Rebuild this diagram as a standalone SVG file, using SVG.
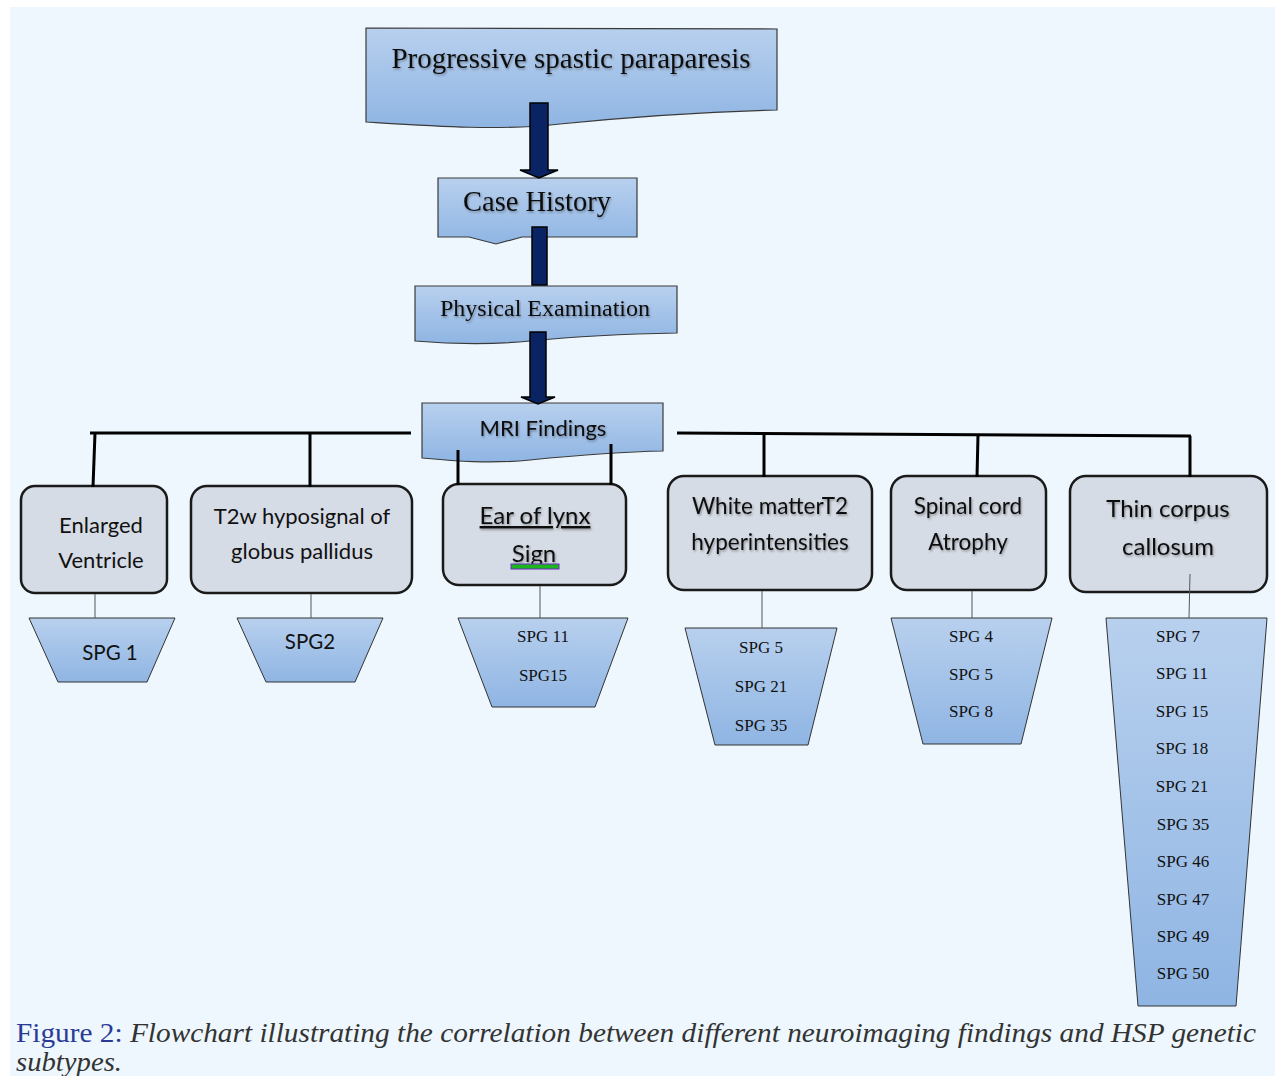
<svg xmlns="http://www.w3.org/2000/svg" width="1275" height="1076" viewBox="0 0 1275 1076">
<defs>
<linearGradient id="gb" x1="0" y1="0" x2="0" y2="1">
<stop offset="0" stop-color="#B8D0EE"/>
<stop offset="1" stop-color="#8FB5E3"/>
</linearGradient>
<filter id="sh" x="-10%" y="-20%" width="120%" height="140%">
<feDropShadow dx="1" dy="1.5" stdDeviation="0.8" flood-color="#000" flood-opacity="0.35"/>
</filter>
<style>
.bluebox{fill:url(#gb);stroke:#3a3a3a;stroke-width:1.2}
.trap{fill:url(#gb);stroke:#333;stroke-width:1}
.box{fill:#D6DCE5;stroke:#1a1a1a;stroke-width:2.5}
.serifT{font-family:"Liberation Serif",serif;fill:#111;text-anchor:middle}
.sansT{font-family:Lato,"Open Sans",sans-serif;fill:#111;text-anchor:middle}
.spg{font-family:"Liberation Serif",serif;font-size:17px;fill:#111;text-anchor:middle}
.arrow{fill:#0A2463;stroke:#000;stroke-width:1.5}
.thick{stroke:#000;stroke-width:3;fill:none}
.thin{stroke:#555;stroke-width:1;fill:none}
</style>
</defs>
<rect x="0" y="0" width="1275" height="1076" fill="#ffffff"/>
<rect x="10" y="7" width="1265" height="1069" fill="#EDF7FD"/>

<g id="progressive">
<path class="bluebox" d="M366,28 L777,29 L777,110 C700,112 620,118 560,124 C500,131 430,126 366,122 Z"/>
<text class="serifT" x="571" y="68" font-size="29" filter="url(#sh)">Progressive spastic paraparesis</text>
</g>

<g id="case-history">
<path class="bluebox" d="M438,178 L637,178 L637,237 L522,237 L496,244 L469,237 L438,237 Z"/>
<text class="serifT" x="537" y="211" font-size="28.5" filter="url(#sh)">Case History</text>
</g>

<g id="physical-exam">
<path class="bluebox" d="M415,286 L677,286 L677,333 C620,334 570,337 530,341 C490,345 450,344 415,341 Z"/>
<text class="serifT" x="545" y="316" font-size="24" filter="url(#sh)">Physical Examination</text>
</g>

<g id="mri-findings">
<path class="bluebox" d="M422,403 L663,403 L663,451 C610,452 570,456 530,460 C490,464 455,461 422,458 Z"/>
<text class="sansT" x="543" y="436" font-size="22" filter="url(#sh)">MRI Findings</text>
</g>

<g id="enlarged-ventricle">
<rect class="box" x="21" y="486" width="146" height="107" rx="14"/>
<text class="sansT" x="101" y="533" font-size="22">Enlarged</text>
<text class="sansT" x="101" y="568" font-size="22">Ventricle</text>
</g>
<g id="t2w-hyposignal">
<rect class="box" x="191" y="486" width="221" height="107" rx="16"/>
<text class="sansT" x="302" y="524" font-size="22">T2w hyposignal of</text>
<text class="sansT" x="302" y="559" font-size="22">globus pallidus</text>
</g>
<g id="ear-of-lynx">
<rect class="box" x="443" y="484" width="183" height="101" rx="16"/>
<text class="sansT" x="535" y="524" font-size="24" text-decoration="underline" filter="url(#sh)">Ear of lynx</text>
<text class="sansT" x="534" y="562" font-size="24" text-decoration="underline" filter="url(#sh)">Sign</text>
<rect x="511" y="564" width="48" height="5" fill="#1db51d" stroke="#6a2bc0" stroke-width="1"/>
</g>
<g id="white-matter">
<rect class="box" x="668" y="476" width="204" height="114" rx="16"/>
<text class="sansT" x="770" y="514" font-size="22.5" filter="url(#sh)">White matterT2</text>
<text class="sansT" x="770" y="550" font-size="22.5" filter="url(#sh)">hyperintensities</text>
</g>
<g id="spinal-cord">
<rect class="box" x="891" y="476" width="155" height="114" rx="16"/>
<text class="sansT" x="968" y="514" font-size="22.5" filter="url(#sh)">Spinal cord</text>
<text class="sansT" x="968" y="550" font-size="22.5" filter="url(#sh)">Atrophy</text>
</g>
<g id="thin-corpus">
<rect class="box" x="1070" y="476" width="197" height="116" rx="16"/>
<text class="sansT" x="1168" y="517" font-size="24" filter="url(#sh)">Thin corpus</text>
<text class="sansT" x="1168" y="555" font-size="24" filter="url(#sh)">callosum</text>
</g>

<g id="spg-1">
<polygon class="trap" points="29,618 175,618 147,682 58,682"/>
<text class="sansT" x="110" y="660" font-size="20.5">SPG 1</text>
</g>
<g id="spg-2">
<polygon class="trap" points="237,618 383,618 355,682 266,682"/>
<text class="sansT" x="310" y="649" font-size="20.5">SPG2</text>
</g>
<g id="spg-lynx">
<polygon class="trap" points="458,618 628,618 595,707 492,707"/>
<text class="spg" x="543" y="642">SPG 11</text>
<text class="spg" x="543" y="681">SPG15</text>
</g>
<g id="spg-white">
<polygon class="trap" points="685,628 837,628 808,745 715,745"/>
<text class="spg" x="761" y="653">SPG 5</text>
<text class="spg" x="761" y="692">SPG 21</text>
<text class="spg" x="761" y="731">SPG 35</text>
</g>
<g id="spg-spinal">
<polygon class="trap" points="891,618 1052,618 1021,744 923,744"/>
<text class="spg" x="971" y="642">SPG 4</text>
<text class="spg" x="971" y="680">SPG 5</text>
<text class="spg" x="971" y="717">SPG 8</text>
</g>
<g id="spg-corpus">
<polygon class="trap" points="1106,618 1267,618 1236,1006 1138,1006"/>
<text class="spg" x="1178" y="642">SPG 7</text>
<text class="spg" x="1182" y="679">SPG 11</text>
<text class="spg" x="1182" y="717">SPG 15</text>
<text class="spg" x="1182" y="754">SPG 18</text>
<text class="spg" x="1182" y="792">SPG 21</text>
<text class="spg" x="1183" y="830">SPG 35</text>
<text class="spg" x="1183" y="867">SPG 46</text>
<text class="spg" x="1183" y="905">SPG 47</text>
<text class="spg" x="1183" y="942">SPG 49</text>
<text class="spg" x="1183" y="979">SPG 50</text>
</g>

<g id="connectors">
<polygon class="arrow" points="530,103 548,103 548,170 558,170 539,178 520,170 530,170"/>
<rect class="arrow" x="532" y="227" width="15" height="58"/>
<polygon class="arrow" points="530,332 546,332 546,397 555,397 538,404 521,397 530,397"/>
<line class="thick" x1="90" y1="433" x2="411" y2="433"/>
<line class="thick" x1="95" y1="433" x2="93" y2="487"/>
<line class="thick" x1="310" y1="433" x2="310" y2="487"/>
<line class="thick" x1="677" y1="433" x2="1191" y2="436"/>
<line class="thick" x1="764" y1="434" x2="764" y2="477"/>
<line class="thick" x1="978" y1="435" x2="977" y2="477"/>
<line class="thick" x1="1190" y1="436" x2="1190" y2="477"/>
<line class="thick" x1="458" y1="450" x2="458" y2="485"/>
<line class="thick" x1="611" y1="444" x2="611" y2="485"/>
<line class="thin" x1="95" y1="594" x2="95" y2="618"/>
<line class="thin" x1="311" y1="594" x2="311" y2="618"/>
<line class="thin" x1="540" y1="586" x2="540" y2="618"/>
<line class="thin" x1="762" y1="591" x2="762" y2="628"/>
<line class="thin" x1="972" y1="591" x2="972" y2="618"/>
<line class="thin" x1="1190" y1="574" x2="1189" y2="618"/>
</g>

<g id="caption" font-family="'Liberation Serif',serif" font-size="28">
<text x="16" y="1042" textLength="1240" lengthAdjust="spacingAndGlyphs"><tspan fill="#2B3A96">Figure 2:</tspan><tspan fill="#333" font-style="italic"> Flowchart illustrating the correlation between different neuroimaging findings and HSP genetic</tspan></text>
<text x="16" y="1071" fill="#333" font-style="italic" textLength="106" lengthAdjust="spacingAndGlyphs">subtypes.</text>
</g>
</svg>
